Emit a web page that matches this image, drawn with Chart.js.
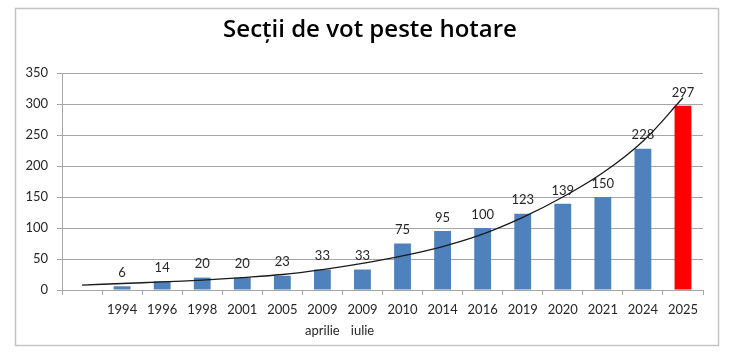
<!DOCTYPE html>
<html><head><meta charset="utf-8">
<script src="https://cdn.jsdelivr.net/npm/chart.js@4/dist/chart.umd.min.js"></script>
<style>html,body{margin:0;padding:0;background:#fff;}#wrap{width:740px;height:356px;}</style>
</head><body><div id="wrap"><canvas id="c" width="740" height="356"></canvas></div>
<script>
const chartTitle = 'Secții de vot peste hotare';
const categories = ['', '1994', '1996', '1998', '2001', '2005', '2009', '2009', '2010', '2014', '2016', '2019', '2020', '2021', '2024', '2025'];
const subLabels = ['', '', '', '', '', '', 'aprilie', 'iulie', '', '', '', '', '', '', '', ''];
const stations = [null, 6, 14, 20, 20, 23, 33, 33, 75, 95, 100, 123, 139, 150, 228, 297];
const trend = [8, 10.5, 13, 16, 20, 25, 33, 43, 55, 70, 90, 117, 150, 189, 240, 310];
const yTicks = [0, 50, 100, 150, 200, 250, 300, 350];

const FONT = 'Lato, "Open Sans", sans-serif';
const labels = categories.map((c, i) => subLabels[i] ? [c, subLabels[i]] : c);
const barColors = stations.map((v, i) => i === stations.length - 1 ? '#FF0000' : '#4F81BD');

const frame = {
  id: 'frame',
  beforeDraw(chart) {
    const ctx = chart.ctx;
    ctx.save();
    ctx.fillStyle = '#fff';
    ctx.fillRect(0, 0, chart.width, chart.height);
    ctx.strokeStyle = '#c4c4c4';
    ctx.lineWidth = 1.5;
    ctx.strokeRect(15.5, 8.5, 703, 337);
    ctx.font = '600 24px "Open Sans", sans-serif';
    ctx.fillStyle = '#000';
    ctx.textAlign = 'center';
    ctx.textBaseline = 'alphabetic';
    ctx.fillText(chartTitle, 370, 37);
    ctx.restore();
  }
};
const valueLabels = {
  id: 'valueLabels',
  afterDatasetsDraw(chart) {
    const ctx = chart.ctx;
    const meta = chart.getDatasetMeta(0);
    ctx.save();
    ctx.font = '13px ' + FONT;
    ctx.fillStyle = '#262626';
    ctx.textAlign = 'center';
    ctx.textBaseline = 'bottom';
    meta.data.forEach((el, i) => {
      const v = stations[i];
      if (v === null || v === undefined) return;
      ctx.fillText(String(v), el.x, el.y - 7);
    });
    ctx.restore();
  }
};

new Chart(document.getElementById('c'), {
  data: {
    labels: labels,
    datasets: [
      { type: 'bar', data: stations, backgroundColor: barColors, barPercentage: 0.42, categoryPercentage: 1, order: 2 },
      { type: 'line', data: trend, borderColor: '#1a1a1a', borderWidth: 1.3, pointRadius: 0, tension: 0.4, fill: false, order: 1 }
    ]
  },
  options: {
    responsive: false,
    animation: false,
    layout: { padding: { left: 0, right: 37, top: 73, bottom: 0 } },
    plugins: {
      legend: { display: false },
      tooltip: { enabled: false },
      title: { display: false }
    },
    scales: {
      x: {
        offset: true,
        grid: { display: true, offset: true, drawOnChartArea: false, drawTicks: true, tickLength: 5, color: '#a6a6a6' },
        border: { display: true, color: '#a6a6a6', width: 1 },
        ticks: { color: '#262626', font: { family: FONT, size: 13, lineHeight: 1.65 }, padding: 4, maxRotation: 0, autoSkip: false },
        afterFit(scale) { scale.height = 66; }
      },
      y: {
        min: 0, max: 350,
        afterBuildTicks(scale) { scale.ticks = yTicks.map(v => ({ value: v })); },
        grid: { color: '#a6a6a6', lineWidth: 1, drawTicks: true, tickLength: 5 },
        border: { display: true, color: '#a6a6a6' },
        ticks: { color: '#262626', font: { family: FONT, size: 13 }, padding: 9 },
        afterFit(scale) { scale.width = 62; }
      }
    }
  },
  plugins: [frame, valueLabels]
});
</script>
</body></html>
